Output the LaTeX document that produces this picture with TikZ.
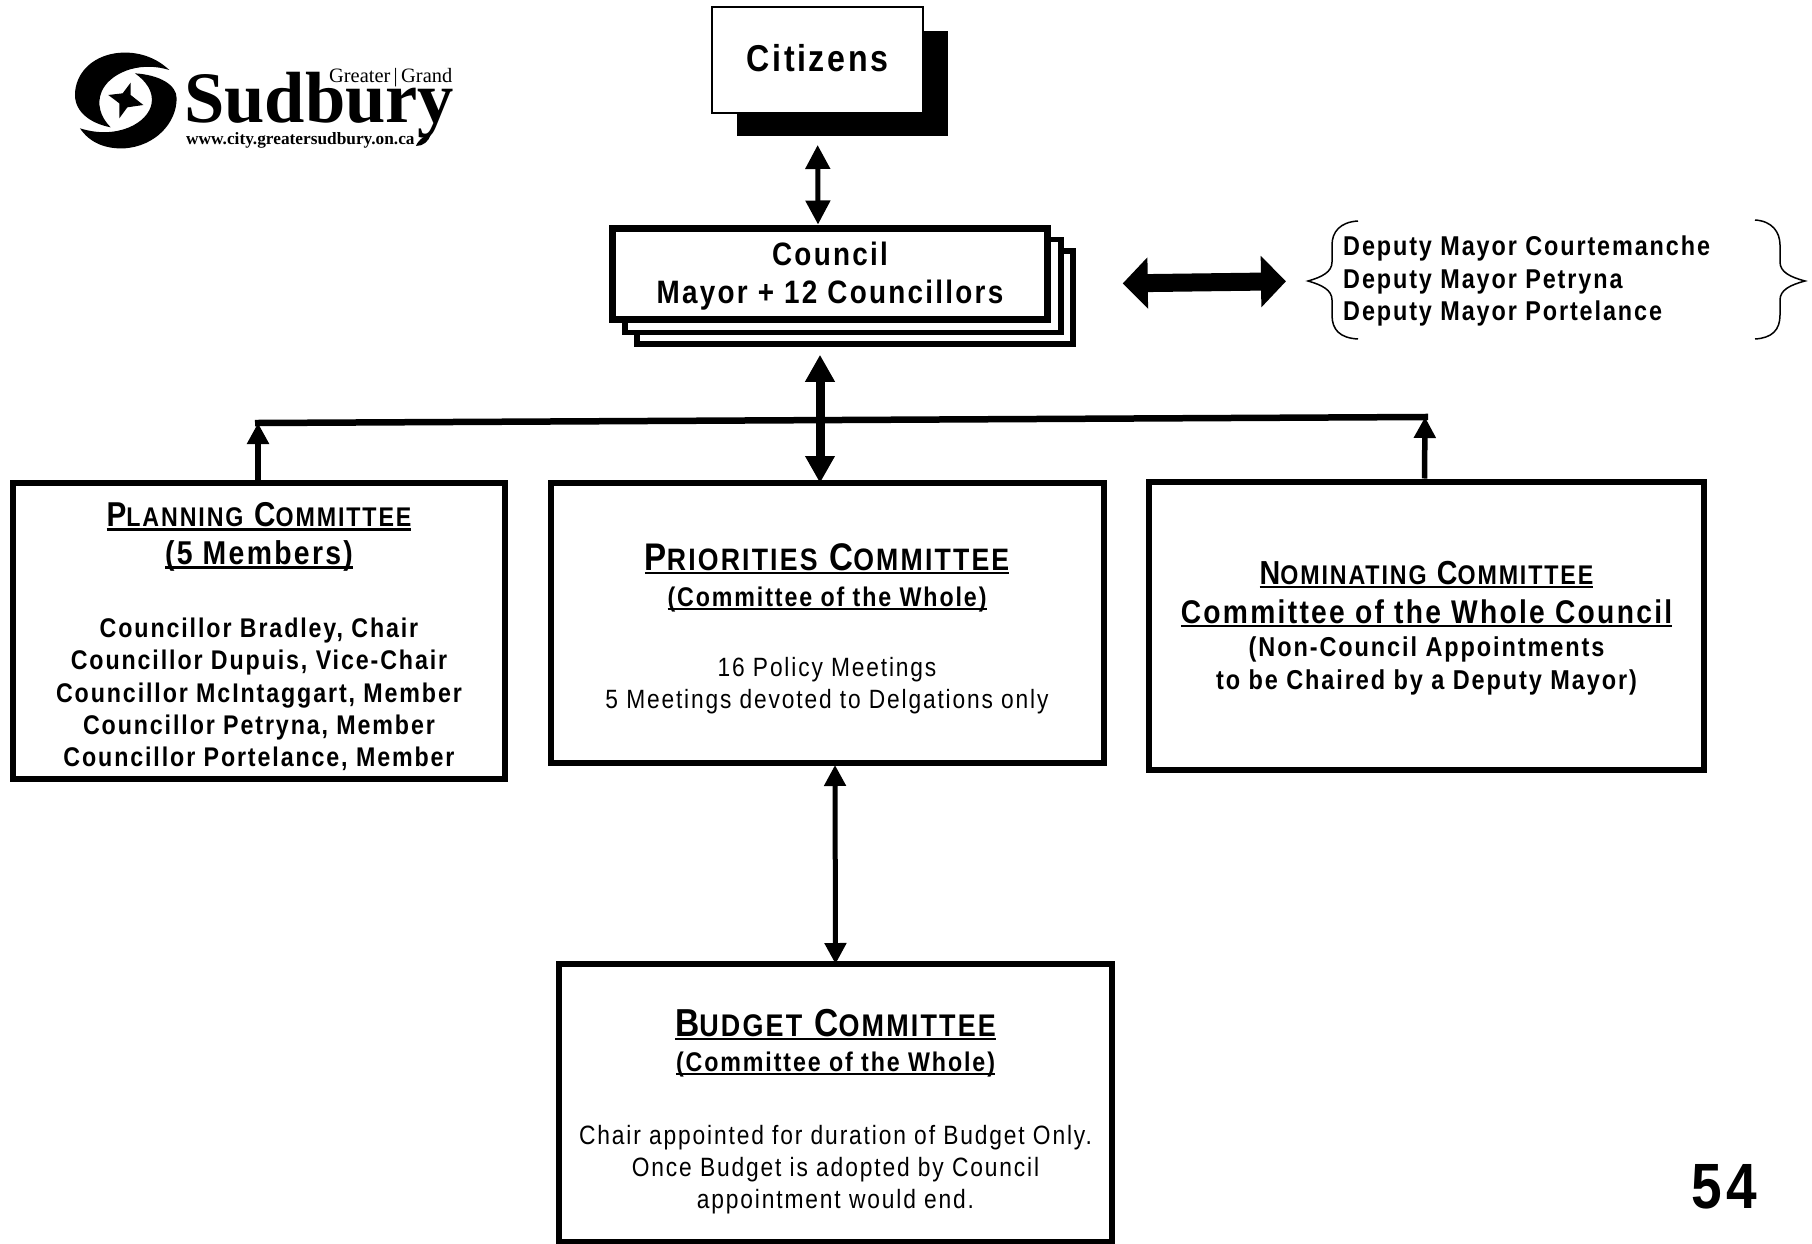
\documentclass[tikz,border=0pt]{standalone}
\usepackage{fontspec}
\usetikzlibrary{arrows.meta}
\setmainfont{Liberation Sans}[FakeStretch=0.86,LetterSpace=7]
\newfontfamily\logofont{Liberation Serif}
\lineskiplimit=-1000pt
\newcommand\Bx[3]{\parbox[c][#2pt][t]{#1pt}{\centering\hbox{}#3}}
\newcommand\Ln[3]{{\fontsize{#1pt}{#2pt}\selectfont #3\par}}
\newcommand\Ul[2][4]{\leavevmode\setbox0\hbox{#2}\rlap{\rule[-#1pt]{\wd0}{2.4pt}}\box0 }
\newcommand\Sm[2]{{\fontsize{#1pt}{#1pt}\selectfont #2}}
\tikzset{
  panel/.style={draw=black,fill=white,line width=6pt,inner sep=0pt},
  stack/.style={draw=black,fill=white,line width=5.5pt,inner sep=0pt,minimum width=436pt,minimum height=93pt},
  dbl/.style={draw=black,line width=5pt,{Triangle[length=24pt,width=24pt]}-{Triangle[length=24pt,width=24pt]}},
  upar/.style={draw=black,line width=5.5pt,-{Triangle[length=21pt,width=21pt]}},
  bracepath/.style={draw=black,line width=1.5pt},
  lbl/.style={inner sep=0pt,font=\bfseries}
}
\begin{document}
\begin{tikzpicture}[x=1pt,y=-1pt]
\useasboundingbox (0,0) rectangle (1812,1244);
\fill[white] (0,0) rectangle (1812,1244);
% logo
\begin{scope}[shift={(40,20)},x=0.3333pt,y=-0.3333pt]
\fill (388,150) .. controls (340,105) and (280,92) .. (225,100) .. controls (150,112) and (105,165) .. (105,225) .. controls (105,275) and (150,310) .. (212,322) .. controls (180,290) and (170,250) .. (185,215) .. controls (205,165) and (290,120) .. (388,150) -- cycle;
\fill (120,325) .. controls (150,370) and (200,388) .. (255,385) .. controls (345,378) and (410,310) .. (410,235) .. controls (410,195) and (360,165) .. (285,160) .. controls (320,185) and (340,215) .. (335,250) .. controls (325,310) and (230,360) .. (120,325) -- cycle;
\fill (272,188) -- (272,225) -- (310,255) -- (262,262) -- (238,295) -- (238,250) -- (205,225) -- (248,220) -- cycle;
\fill (1128,378) .. controls (1150,378) and (1165,365) .. (1172,345) -- (1150,352) .. controls (1140,358) and (1132,368) .. (1128,378) -- cycle;
\end{scope}
\node[anchor=base west,inner sep=0pt] (sudbury) at (184,123) {\logofont\fontsize{72.5pt}{73pt}\selectfont\bfseries Sudbury};
\node[anchor=base west,inner sep=0pt] (greater) at (329,83) {\logofont\fontsize{20.4pt}{22pt}\selectfont Greater\,|\,Grand};
\node[anchor=base west,inner sep=0pt] (www) at (186,145) {\logofont\fontsize{17.3pt}{18pt}\selectfont\bfseries www.city.greatersudbury.on.ca};
% citizens
\node[fill=black,inner sep=0pt,minimum width=211pt,minimum height=105pt] (citshadow) at (842.5,83.5) {};
\node[panel,line width=2pt] (citizens) at (817.5,60) {\Bx{211}{106}{\bfseries\Ln{37.4}{65}{Citizens}}};
% council
\node[stack] (council3) at (855,297.5) {};
\node[stack] (council2) at (843,286) {};
\node[panel,line width=7pt] (council) at (830,273.75) {\Bx{434.5}{91.5}{\bfseries\Ln{32.4}{37}{Council}\Ln{32.4}{38}{Mayor + 12 Councillors}}};
% deputy
\node[lbl,anchor=west,align=left,inner sep=0pt] (deputy) at (1343,281) {\parbox[c][100pt][t]{400pt}{\raggedright\hbox{}\Ln{27.2}{24.5}{Deputy Mayor Courtemanche}\Ln{27.2}{32.5}{Deputy Mayor Petryna}\Ln{27.2}{32.5}{Deputy Mayor Portelance}}};
\coordinate (lbt) at (1358,221); \coordinate (lbb) at (1358,339); \coordinate (lbm) at (1308,281);
\coordinate (rbt) at (1755,220); \coordinate (rbb) at (1755,339); \coordinate (rbm) at (1805,281);
\draw[bracepath] (lbt) .. controls (1340,222) and (1332,232) .. (1332,245) -- (1332,262) .. controls (1332,272) and (1322,277) .. (lbm) .. controls (1322,285) and (1332,290) .. (1332,300) -- (1332,315) .. controls (1332,330) and (1340,338) .. (lbb);
\draw[bracepath] (rbt) .. controls (1772,221) and (1780,232) .. (1780,245) -- (1780,262) .. controls (1780,272) and (1790,277) .. (rbm) .. controls (1790,285) and (1780,290) .. (1780,300) -- (1780,315) .. controls (1780,330) and (1772,338) .. (rbb);
% committees
\node[panel] (planning) at (259,631) {\Bx{492}{296}{\bfseries
  \Ln{34.5}{43.5}{\Ul{P\Sm{27}{LANNING} C\Sm{27}{OMMITTEE}}}
  \Ln{33}{38}{\Ul{(5 Members)}}
  \Ln{27}{73}{Councillor Bradley, Chair}
  \Ln{27}{32}{Councillor Dupuis, Vice-Chair}
  \Ln{27}{32.5}{Councillor McIntaggart, Member}
  \Ln{27}{32.5}{Councillor Petryna, Member}
  \Ln{27}{32}{Councillor Portelance, Member}}};
\node[panel] (priorities) at (827,623) {\Bx{553}{280}{
  \Ln{38.5}{87}{\bfseries\Ul{P\Sm{31}{RIORITIES} C\Sm{31}{OMMITTEE}}}
  \Ln{27}{36}{\bfseries\Ul{(Committee of the Whole)}}
  \Ln{26.45}{70}{16 Policy Meetings}
  \Ln{26.45}{32}{5 Meetings devoted to Delgations only}}};
\node[panel] (nominating) at (1426.5,625.5) {\Bx{555}{288}{\bfseries
  \Ln{33.3}{102.5}{\Ul{N\Sm{27}{OMINATING} C\Sm{27}{OMMITTEE}}}
  \Ln{32.8}{39}{\Ul{Committee of the Whole Council}}
  \Ln{27.3}{33}{(Non-Council Appointments}
  \Ln{27.3}{33}{to be Chaired by a Deputy Mayor)}}};
\node[panel] (budget) at (835.5,1103) {\Bx{553}{278}{
  \Ln{39}{72}{\bfseries\Ul{B\Sm{31.3}{UDGET} C\Sm{31.3}{OMMITTEE}}}
  \Ln{27}{35}{\bfseries\Ul{(Committee of the Whole)}}
  \Ln{26.5}{73}{Chair appointed for duration of Budget Only.}
  \Ln{26.5}{32}{Once Budget is adopted by Council}
  \Ln{26.5}{32}{appointment would end.}}};
\node[anchor=base east,inner sep=0pt,font=\bfseries] (pagenum) at (1757,1208) {\fontsize{64pt}{64pt}\selectfont 54};
% connectors
\draw[dbl,shorten <=31pt,shorten >=0pt] (citizens.south) -- ([xshift=-12pt]council.north);
\draw[dbl,line width=9pt,{Triangle[length=27pt,width=28pt]}-{Triangle[length=27pt,width=28pt]},shorten <=0pt,shorten >=-3pt] ([xshift=-10pt]council.south |- council3.south) ++(0,8) -- ([xshift=-7pt]priorities.north);
\draw[draw=black,line width=18pt,{Triangle[length=25pt,width=50pt]}-{Triangle[length=25pt,width=50pt]},shorten <=47pt,shorten >=22pt] ([yshift=13.5pt]council3.east) -- (deputy.west -| lbm);
\coordinate (busL) at (258,423); \coordinate (busR) at (1425,417);
\draw[black,line width=6.5pt,shorten <=-3pt,shorten >=-3pt] (busL) -- (busR);
\draw[upar] ([xshift=-1pt]planning.north) -- (busL);
\draw[upar] ([xshift=-2pt]nominating.north) -- (busR);
\draw[dbl,{Triangle[length=21pt,width=21pt]}-{Triangle[length=21pt,width=21pt]},shorten >=-3pt,shorten <=-1pt] ([xshift=8pt]priorities.south) -- (budget.north);
\end{tikzpicture}
\end{document}
